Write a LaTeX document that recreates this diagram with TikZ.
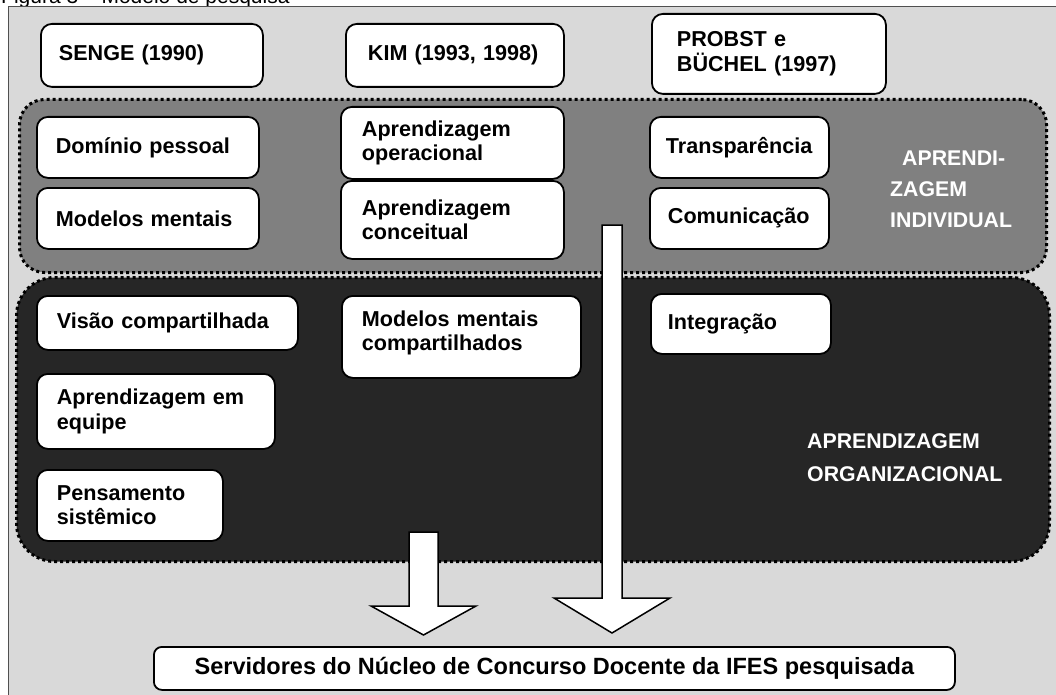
\documentclass[tikz,border=0pt]{standalone}
\usepackage{fontspec}
\setmainfont{Liberation Sans}
\usetikzlibrary{calc}
\definecolor{bgc}{HTML}{D9D9D9}
\definecolor{indc}{HTML}{808080}
\definecolor{orgc}{HTML}{262626}
\definecolor{framec}{HTML}{505050}
\newcommand\rbox[7]{%
  \pgfmathsetmacro\rtw{#4-2*#6}%
  \node[wbox, minimum width=#4pt, minimum height=#5pt, inner xsep=#6pt, text width=\rtw pt] (#1) at (#2,#3) {#7};}
\tikzset{
  wbox/.style={draw=black, line width=1.8pt, fill=white, rounded corners=11pt, anchor=north west, align=left, inner ysep=0pt, font=\bfseries\fontsize{21.6}{24.5}\selectfont},
  region/.style={anchor=north west, inner sep=0pt, draw=black, line width=3pt, dash pattern=on 3pt off 3pt},
  wlabel/.style={anchor=base west, inner sep=0pt, text=white, font=\bfseries\fontsize{21.3}{24}\selectfont},
  blockarrow/.style={draw=black, line width=1.5pt, fill=white, line join=miter},
}
\begin{document}
\begin{tikzpicture}[x=1pt,y=-1pt]
\useasboundingbox (0,0) rectangle (1056,695);
% title (cropped at the top, as in the reference)
\node[anchor=base west, inner sep=0pt, font=\fontsize{21}{24}\selectfont] (title) at (1,4) {Figura 3 – Modelo de pesquisa};
% frame
\draw[fill=bgc, draw=framec, line width=1pt] (8,7) rectangle (1070,710);
% top row
\rbox{senge}{40}{23}{222}{63}{18}{SENGE (1990)}
\rbox{kim}{345}{23}{218}{63}{22}{KIM (1993, 1998)}
\rbox{probst}{651}{13}{234}{80}{25}{PROBST e\\BÜCHEL (1997)}
% regions
\node[region, fill=indc, rounded corners=25pt, minimum width=1027pt, minimum height=173pt] (indiv) at (18,98) {};
\node[region, fill=orgc, rounded corners=38pt, minimum width=1033pt, minimum height=284pt] (org) at (15,276) {};
% individual
\rbox{dominio}{36}{116}{222}{61}{19}{Domínio pessoal}
\rbox{modmen}{36}{187}{222}{61}{19}{Modelos mentais}
\rbox{aprop}{340}{106}{223}{72}{21}{Aprendizagem\\operacional}
\rbox{aprco}{340}{180}{223}{78}{21}{Aprendizagem\\conceitual}
\rbox{transp}{649}{116}{179}{61}{16}{Transparência}
\rbox{comun}{649}{187}{179}{61}{18}{Comunicação}
\node[wlabel] (lind1) at (902,165) {APRENDI-};
\node[wlabel] (lind2) at (890,196) {ZAGEM};
\node[wlabel] (lind3) at (890,227) {INDIVIDUAL};
% organizational
\rbox{visao}{36}{295}{261}{54}{20}{Visão compartilhada}
\rbox{mmc}{341}{295}{239}{82}{20}{Modelos mentais\\compartilhados\vspace*{8pt}}
\rbox{integ}{650}{293}{180}{60}{17}{Integração}
\rbox{equipe}{36}{373}{238}{75}{20}{Aprendizagem em\\equipe}
\rbox{pens}{36}{469}{186}{71}{20}{Pensamento\\sistêmico}
\node[wlabel] (lorg1) at (807,448) {APRENDIZAGEM};
\node[wlabel] (lorg2) at (807,481) {ORGANIZACIONAL};
% target
\node[wbox, minimum width=801pt, minimum height=43pt, align=center, rounded corners=8pt, font=\bfseries\fontsize{23.5}{26}\selectfont] (target) at (153,646) {Servidores do Núcleo de Concurso Docente da IFES pesquisada};
% arrows
\coordinate (latop) at (612,225);
\coordinate (latip) at (612,633);
\draw[blockarrow] ($(latop)+(-10,0)$) -- ($(latop)+(10,0)$) -- ($(latip)+(10,-35)$) -- ($(latip)+(58,-35)$) -- (latip) -- ($(latip)+(-58,-35)$) -- ($(latip)+(-10,-35)$) -- cycle;
\coordinate (satop) at (423.5,532);
\coordinate (satip) at (423.5,635);
\draw[blockarrow] ($(satop)+(-14.5,0)$) -- ($(satop)+(14.5,0)$) -- ($(satip)+(14.5,-29)$) -- ($(satip)+(52.5,-29)$) -- (satip) -- ($(satip)+(-52.5,-29)$) -- ($(satip)+(-14.5,-29)$) -- cycle;
\end{tikzpicture}
\end{document}
